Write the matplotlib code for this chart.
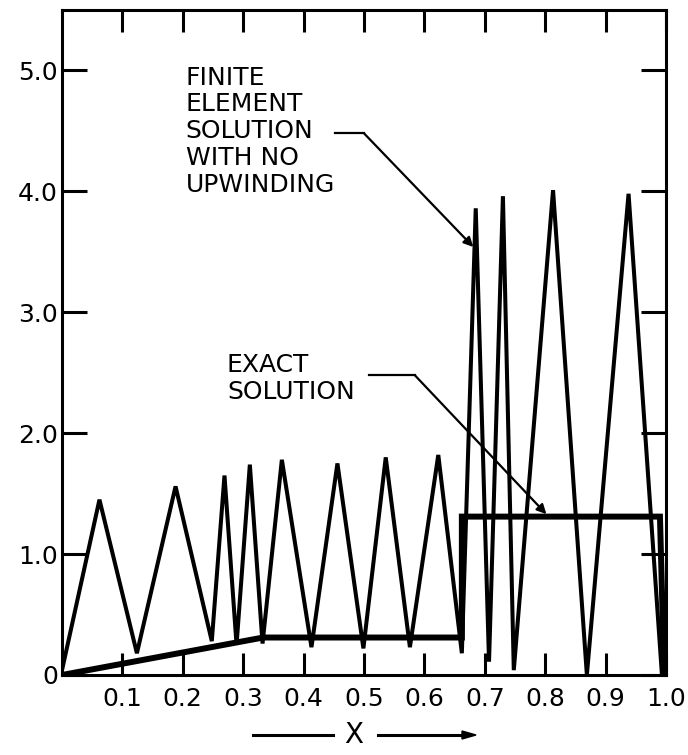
import matplotlib.pyplot as plt

# Решение методом конечных элементов (без противопотоковой схемы)
fe_x = [0.0, 0.062, 0.124, 0.188, 0.248, 0.269, 0.289, 0.311, 0.332, 0.364,
        0.413, 0.456, 0.499, 0.536, 0.576, 0.623, 0.662, 0.685, 0.707, 0.730,
        0.748, 0.813, 0.869, 0.938, 0.993]
fe_y = [0.04, 1.45, 0.18, 1.56, 0.28, 1.65, 0.25, 1.74, 0.26, 1.78,
        0.23, 1.75, 0.22, 1.80, 0.23, 1.82, 0.18, 3.86, 0.11, 3.96,
        0.04, 4.01, 0.0, 3.98, 0.02]

# Точное решение
ex_x = [0.0, 0.333, 0.662, 0.662, 0.99, 0.997]
ex_y = [0.0, 0.31, 0.31, 1.31, 1.31, 0.0]

x_ticks = [0.1, 0.2, 0.3, 0.4, 0.5, 0.6, 0.7, 0.8, 0.9, 1.0]
x_labels = ['0.1', '0.2', '0.3', '0.4', '0.5', '0.6', '0.7', '0.8', '0.9', '1.0']
y_ticks = [0, 1, 2, 3, 4, 5]
y_labels = ['0', '1.0', '2.0', '3.0', '4.0', '5.0']

fig = plt.figure(figsize=(6.88, 7.55), dpi=100)
ax = fig.add_axes([62 / 688, 1 - 675 / 755, 604 / 688, 665 / 755])

ax.plot(fe_x, fe_y, color='black', lw=2.9, solid_joinstyle='miter')
ax.plot(ex_x, ex_y, color='black', lw=4.3, solid_joinstyle='miter')

ax.set_xlim(0, 1.0)
ax.set_ylim(0, 5.5)
for s in ax.spines.values():
    s.set_linewidth(2.2)

ax.set_xticks(x_ticks)
ax.set_xticklabels(x_labels)
ax.set_yticks(y_ticks)
ax.set_yticklabels(y_labels)
ax.tick_params(axis='x', direction='in', length=16, width=2.2, top=True,
               labelsize=18, pad=9)
ax.tick_params(axis='y', direction='in', length=18, width=2.2, right=True,
               labelsize=18, pad=3)

arrow = dict(arrowstyle='-|>', color='black', lw=1.6,
             shrinkA=0, shrinkB=0, mutation_scale=14)

# Подписи с выносными линиями
ax.text(0.205, 5.04, "FINITE\nELEMENT\nSOLUTION\nWITH NO\nUPWINDING",
        fontsize=18, va='top', ha='left', linespacing=1.15)
ax.plot([0.452, 0.50], [4.48, 4.48], color='black', lw=1.6)
ax.annotate("", xy=(0.681, 3.54), xytext=(0.50, 4.48), arrowprops=arrow)

ax.text(0.273, 2.66, "EXACT\nSOLUTION", fontsize=18, va='top', ha='left',
        linespacing=1.15)
ax.plot([0.508, 0.584], [2.48, 2.48], color='black', lw=1.6)
ax.annotate("", xy=(0.802, 1.33), xytext=(0.584, 2.48), arrowprops=arrow)

# Подпись оси X со стрелками
fig.text(354 / 688, 1 - 735 / 755, "X", fontsize=20, ha='center', va='center')
fig.add_artist(plt.Line2D([253 / 688, 333 / 688], [1 - 735 / 755] * 2,
                          color='black', lw=2.2, transform=fig.transFigure))
fig.add_artist(plt.Line2D([378 / 688, 462 / 688], [1 - 735 / 755] * 2,
                          color='black', lw=2.2, transform=fig.transFigure))
fig.patches.append(plt.Polygon([[462 / 688, 1 - 731 / 755], [476 / 688, 1 - 735 / 755],
                                [462 / 688, 1 - 739 / 755]], closed=True,
                               color='black', transform=fig.transFigure))

fig.savefig('out.png', dpi=100)
